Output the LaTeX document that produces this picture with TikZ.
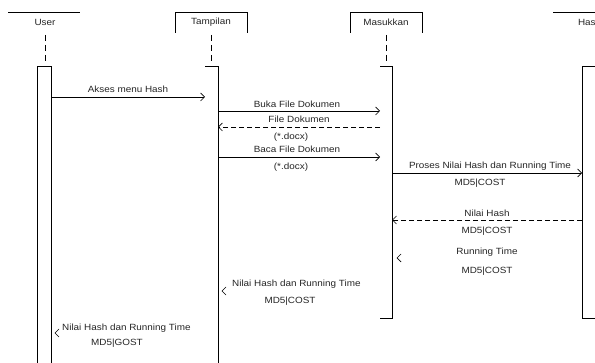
\documentclass[tikz,border=0pt]{standalone}
\usepackage{fontspec}
\setmainfont{Liberation Sans}[FakeStretch=1.1]
\usetikzlibrary{arrows.meta}
\tikzset{
  lbl/.style={font=\fontsize{9}{10}\selectfont, text=black!85, inner sep=0pt},
  life/.style={line width=0.8pt, dash pattern=on 6pt off 4pt},
  actbox/.style={line width=0.9pt},
  msg/.style={line width=0.7pt, -{Straight Barb[length=4pt,width=8pt,line width=0.7pt]}},
  ret/.style={msg, dash pattern=on 5pt off 3pt},
  tipl/.style={line width=0.7pt}
}
\begin{document}
\begin{tikzpicture}[x=1pt,y=-1pt]
\useasboundingbox (0,0) rectangle (595,363);
\clip (0,0) rectangle (595,363);
\fill[white] (0,0) rectangle (595,363);
% headers
\draw[line width=0.9pt] (8,12) -- (80,12);
\node[lbl] (hUser) at (45,22) {User};
\draw[line width=0.9pt] (175,33) |- (247,12) -- (247,33);
\node[lbl] (hTamp) at (211,22) {Tampilan};
\draw[line width=0.9pt] (350,33) |- (422,12) -- (422,33);
\node[lbl] (hMas) at (386,22) {Masukkan};
\draw[line width=0.9pt] (553,12) -- (600,12);
\node[lbl] (hHas) at (589,22) {Hasil};
% lifelines
\draw[life] (45,35) -- (45,63);
\draw[life] (211,35) -- (211,63);
\draw[life] (386,35) -- (386,63);
% activations
\draw[actbox] (37,370) |- (51,66) -- (51,370);
\draw[actbox] (205,66) -- (218,66) -- (218,370);
\draw[actbox] (380,66) -- (392,66) -- (392,318) -- (380,318);
\draw[actbox] (600,66) -- (582,66) -- (582,318) -- (600,318);
% endpoints
\coordinate (u1) at (51,97);   \coordinate (t1) at (205,97);
\coordinate (t2) at (218,111); \coordinate (m2) at (380,111);
\coordinate (m3) at (380,127); \coordinate (t3) at (218,127);
\coordinate (t4) at (218,157); \coordinate (m4) at (380,157);
\coordinate (m5) at (392,173); \coordinate (h5) at (582,173);
\coordinate (h6) at (582,220); \coordinate (m6) at (392,220);
\coordinate (m7) at (397,258);
\coordinate (t8) at (222,291);
\coordinate (u9) at (55,333);
% messages
\draw[msg] (u1) -- (t1);
\node[lbl] (l1) at (128,89) {Akses menu Hash};
\draw[msg] (t2) -- (m2);
\node[lbl] (l2) at (297,104) {Buka File Dokumen};
\draw[ret] (m3) -- (t3);
\node[lbl] (l3) at (299,119) {File Dokumen};
\node[lbl] (l3b) at (291,137) {(*.docx)};
\draw[msg] (t4) -- (m4);
\node[lbl] (l4) at (297,149) {Baca File Dokumen};
\node[lbl] (l4b) at (291,167) {(*.docx)};
\draw[msg] (m5) -- (h5);
\node[lbl] (l5) at (490,166) {Proses Nilai Hash dan Running Time};
\node[lbl] (l5b) at (480,183) {MD5|COST};
\draw[ret] (h6) -- (m6);
\node[lbl] (l6) at (487,213) {Nilai Hash};
\node[lbl] (l6b) at (487,231) {MD5|COST};
\draw[tipl] ([shift={(4,-4)}]m7) -- (m7) -- ([shift={(4,4)}]m7);
\node[lbl] (l7) at (487,252) {Running Time};
\node[lbl] (l7b) at (487,271) {MD5|COST};
\draw[tipl] ([shift={(4,-4)}]t8) -- (t8) -- ([shift={(4,4)}]t8);
\node[lbl, anchor=west] (l8) at (232,284) {Nilai Hash dan Running Time};
\node[lbl] (l8b) at (290,301) {MD5|COST};
\draw[tipl] ([shift={(4,-4)}]u9) -- (u9) -- ([shift={(4,4)}]u9);
\node[lbl, anchor=west] (l9) at (62,328) {Nilai Hash dan Running Time};
\node[lbl] (l9b) at (117,343) {MD5|GOST};
\end{tikzpicture}
\end{document}
